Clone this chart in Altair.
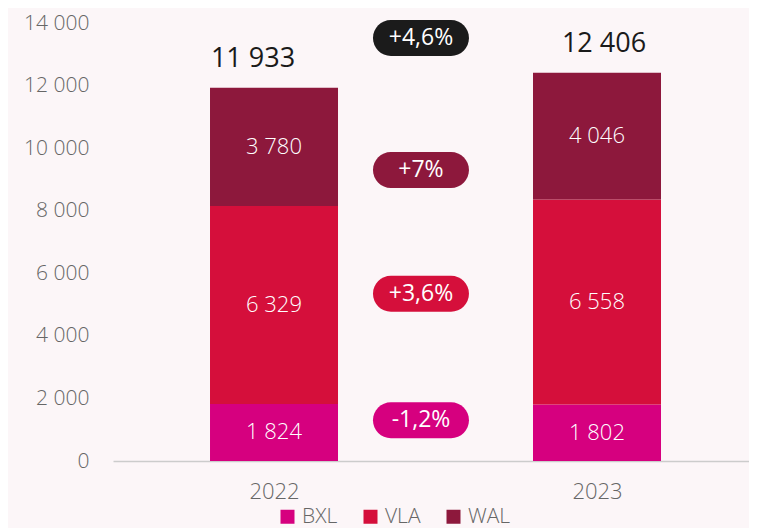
import altair as alt
import pandas as pd

# ---- data ----
years = [2022, 2023]
regions = ["BXL", "VLA", "WAL"]
bxl = [1824, 1802]
vla = [6329, 6558]
wal = [3780, 4046]
totals = [11933, 12406]

pill_labels = ["-1,2%", "+3,6%", "+7%", "+4,6%"]
pill_y = [1302, 5349, 9302, 13524]
pill_colors = ["#d6007f", "#d50f3b", "#8d183c", "#1b1b1b"]
pill_x = 2022.455

region_colors = ["#d6007f", "#d50f3b", "#8d183c"]

FONT = "Open Sans"

def fmt(v):
    return f"{v:,}".replace(",", " ")

rows = []
for i, yr in enumerate(years):
    base = 0
    for reg, vals in zip(regions, [bxl, vla, wal]):
        v = vals[i]
        rows.append(dict(year=yr, region=reg, value=v, y0=base, y1=base + v,
                         mid=base + v / 2, label=fmt(v)))
        base += v
seg = pd.DataFrame(rows)
tot = pd.DataFrame(dict(year=years, total=totals, label=[fmt(t) for t in totals]))
half = 575
pills = pd.DataFrame(dict(x=[pill_x] * 4, y=pill_y,
                          ylo=[p - half for p in pill_y], yhi=[p + half for p in pill_y],
                          label=pill_labels, color=pill_colors))

xscale = alt.Scale(domain=[2021.5015, 2023.4706], nice=False, zero=False, padding=0)
yscale = alt.Scale(domain=[0, 14000], nice=False, padding=0)

xaxis = alt.Axis(values=years, format="d", title=None, ticks=False, grid=False,
                 labelFontSize=22, labelColor="#666666", labelPadding=20,
                 domainColor="#cccccc", domainWidth=1.5, labelFont=FONT,
                 labelFontWeight=300)
yaxis = alt.Axis(values=list(range(0, 14001, 2000)), title=None, ticks=False,
                 grid=False, domain=False, labelFontSize=21, labelColor="#666666",
                 labelPadding=24, labelFont=FONT, labelFontWeight=300,
                 labelExpr="replace(format(datum.value, ','), ',', ' ')")

bars = alt.Chart(seg).mark_bar(size=128).encode(
    x=alt.X("year:Q", scale=xscale, axis=xaxis),
    y=alt.Y("y0:Q", scale=yscale, axis=yaxis),
    y2="y1:Q",
    color=alt.Color("region:N",
                    scale=alt.Scale(domain=regions, range=region_colors),
                    legend=alt.Legend(orient="none", legendX=164, legendY=483,
                                      direction="horizontal", title=None,
                                      symbolType="square", symbolSize=196,
                                      symbolStrokeWidth=0, labelFontSize=21,
                                      labelColor="#666666", labelFont=FONT,
                                      labelFontWeight=300, columnPadding=22,
                                      labelOffset=4)),
)

seg_text = alt.Chart(seg).mark_text(color="white", fontSize=22, font=FONT,
                                    fontWeight=300, baseline="middle").encode(
    x="year:Q", y="mid:Q", text="label:N")

tot_base = alt.Chart(tot).encode(x="year:Q", y="total:Q", text="label:N")
tot_text_a = tot_base.mark_text(color="#1a1a1a", fontSize=27, font=FONT,
                                fontWeight=400, baseline="alphabetic", dy=-21,
                                dx=-21).transform_filter("datum.year == 2022")
tot_text_b = tot_base.mark_text(color="#1a1a1a", fontSize=27, font=FONT,
                                fontWeight=400, baseline="alphabetic", dy=-21,
                                dx=7).transform_filter("datum.year == 2023")

pill_bars = alt.Chart(pills).mark_bar(size=96, cornerRadius=18).encode(
    x="x:Q", y="ylo:Q", y2="yhi:Q", color=alt.Color("color:N", scale=None))

pill_text = alt.Chart(pills).mark_text(color="white", fontSize=23, font=FONT,
                                       fontWeight=500, baseline="middle").encode(
    x="x:Q", y="y:Q", text="label:N")

chart = alt.layer(bars, seg_text, tot_text_a, tot_text_b, pill_bars, pill_text).properties(
    width=636, height=438,
    autosize=alt.AutoSizeParams(type="none"),
    padding={"left": 105, "top": 15, "right": 0, "bottom": 67},
    background="#fcf6f8",
).configure_view(stroke=None)

chart.save("out.html", embed_options={"renderer": "svg", "actions": False})
